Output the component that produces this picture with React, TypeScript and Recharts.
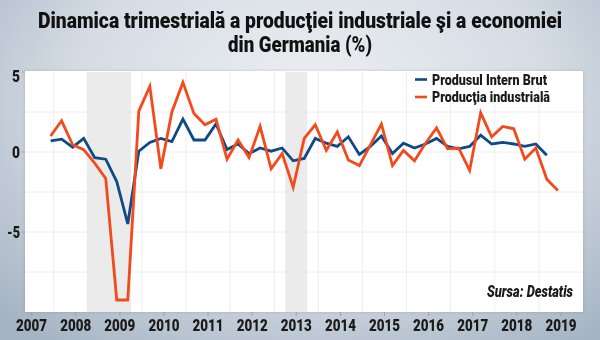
import { LineChart, Line, XAxis, YAxis, CartesianGrid, ReferenceArea } from 'recharts'

// trimestre (an, trimestru), variatie % fata de trimestrul anterior
const quarters: [number, number][] = [
  [2007, 2], [2007, 3], [2007, 4],
  [2008, 1], [2008, 2], [2008, 3], [2008, 4],
  [2009, 1], [2009, 2], [2009, 3], [2009, 4],
  [2010, 1], [2010, 2], [2010, 3], [2010, 4],
  [2011, 1], [2011, 2], [2011, 3], [2011, 4],
  [2012, 1], [2012, 2], [2012, 3], [2012, 4],
  [2013, 1], [2013, 2], [2013, 3], [2013, 4],
  [2014, 1], [2014, 2], [2014, 3], [2014, 4],
  [2015, 1], [2015, 2], [2015, 3], [2015, 4],
  [2016, 1], [2016, 2], [2016, 3], [2016, 4],
  [2017, 1], [2017, 2], [2017, 3], [2017, 4],
  [2018, 1], [2018, 2], [2018, 3], [2018, 4],
]

const pib = [
  0.7, 0.8, 0.3,
  0.85, -0.35, -0.45, -1.85,
  -4.5, 0.05, 0.6, 0.85,
  0.65, 2.05, 0.75, 0.75,
  1.75, 0.15, 0.5, -0.1,
  0.25, 0.05, 0.25, -0.55,
  -0.4, 0.85, 0.55, 0.35,
  0.95, -0.15, 0.35, 1.0,
  -0.1, 0.55, 0.25, 0.5,
  0.85, 0.35, 0.2, 0.35,
  1.05, 0.5, 0.6, 0.5,
  0.35, 0.5, -0.2,
]

const productie = [
  1.0, 1.95, 0.45,
  0.15, -0.7, -1.65, -9.25,
  -9.25, 2.55, 4.1, -1.05,
  2.5, 4.35, 2.4, 1.7,
  2.05, -0.45, 0.75, -0.35,
  1.6, -1.05, -0.1, -2.2,
  0.85, 1.7, 0.1, 1.25,
  -0.5, -0.85, 0.45, 1.75,
  -0.85, 0.1, -0.55, 0.55,
  1.5, 0.2, 0.25, -1.15,
  2.45, 0.95, 1.6, 1.45,
  -0.45, 0.25, -1.7, -2.4,
]

const yearTicks = [2007, 2008, 2009, 2010, 2011, 2012, 2013, 2014, 2015, 2016, 2017, 2018, 2019]
const valueTicks = [-5, 0, 5]
const gridValues = [-7.5, -5, -2.5, 0, 2.5]
const halfYears = [2007.5, 2008.5, 2009.5, 2010.5, 2011.5, 2012.5, 2013.5, 2014.5, 2015.5, 2016.5, 2017.5, 2018.5]
const recessions: [number, number][] = [[2008.25, 2009.25], [2012.75, 2013.25]]

const titleLines = ['Dinamica trimestrială a producţiei industriale şi a economiei', 'din Germania (%)']
const legendItems = ['Produsul Intern Brut', 'Producţia industrială']
const source = 'Sursa: Destatis'

const data = quarters.map(([an, tr], i) => ({
  t: an + (tr - 1) / 4 + 0.18,
  pib: pib[i],
  productie: productie[i],
}))

const FONT = 'Roboto, "Noto Sans", sans-serif'
const INK = '#1a1a1a'
const BLUE = '#0d4a87'
const ORANGE = '#f24a1d'
const SQUEEZE = 0.85

// condensed look: glyphs squeezed to the widths measured on the original
const XTick = ({ x, y, payload }: any) => (
  <text x={x} y={y} dy={13} textAnchor="middle" fontFamily={FONT} fontWeight={900} fontSize={16} fill={INK}
    textLength={31} lengthAdjust="spacingAndGlyphs">
    {payload.value}
  </text>
)

const YTick = ({ x, y, payload }: any) => {
  const label = String(payload.value)
  return (
    <text x={x} y={y} dy={payload.value === 5 ? 9.5 : 6} textAnchor="end" fontFamily={FONT} fontWeight={900} fontSize={16.5} fill={INK}
      textLength={label.length > 1 ? 13 : 8} lengthAdjust="spacingAndGlyphs">
      {label}
    </text>
  )
}

export default function App() {
  return (
    <div
      style={{
        position: 'fixed', left: 0, top: 0, width: 600, height: 340, overflow: 'hidden',
        background: 'radial-gradient(ellipse 72% 90% at 52% 30%, #edf0f4 0%, #d5dce4 55%, #a5b3c3 100%)',
      }}
    >
      <div style={{ position: 'absolute', left: 25, top: 71, width: 558, height: 241, background: '#fff', boxShadow: '0 0 3px rgba(0,0,0,0.15)' }} />
      <div style={{ position: 'absolute', top: 0, left: 0 }}>
        <LineChart width={600} height={340} data={data} margin={{ top: 72, right: 17, bottom: 6, left: 0 }}>
          {recessions.map(([a, b]) => (
            <ReferenceArea key={a} x1={a} x2={b} y1={-10} y2={5} fill="#ebebeb" fillOpacity={1} stroke="none" ifOverflow="hidden" />
          ))}
          <CartesianGrid stroke="#eeeeee" strokeWidth={1} horizontalValues={gridValues} verticalValues={halfYears} />
          <XAxis
            dataKey="t" type="number" domain={[2006.85, 2019.5]} ticks={yearTicks} allowDataOverflow
            axisLine={false} tickLine={{ stroke: '#9aa3ad' }} tickSize={4} interval={0} height={22}
            tick={<XTick />}
          />
          <YAxis
            type="number" domain={[-10, 5]} ticks={valueTicks} width={25} axisLine={false}
            tickLine={{ stroke: '#9aa3ad' }} tickSize={3} tick={<YTick />}
          />
          <Line dataKey="pib" name={legendItems[0]} stroke={BLUE} strokeWidth={2.8} dot={false} isAnimationActive={false} strokeLinejoin="miter" />
          <Line dataKey="productie" name={legendItems[1]} stroke={ORANGE} strokeWidth={2.8} dot={false} isAnimationActive={false} strokeLinejoin="miter" />
        </LineChart>
      </div>
      <svg width={600} height={340} style={{ position: 'absolute', left: 0, top: 0, pointerEvents: 'none' }}>
        <g fontFamily={FONT} fontWeight={900} fill="#111" fontSize={22} textAnchor="middle">
          <g transform={`translate(300,28) scale(${SQUEEZE},1)`}>
            <text x={0} y={0} textLength={524 / SQUEEZE} lengthAdjust="spacingAndGlyphs">{titleLines[0]}</text>
          </g>
          <g transform={`translate(300,52) scale(${SQUEEZE},1)`}>
            <text x={0} y={0} textLength={144 / SQUEEZE} lengthAdjust="spacingAndGlyphs">{titleLines[1]}</text>
          </g>
        </g>
        <g fontFamily={FONT} fontWeight={900} fontSize={14} fill={INK}>
          <line x1={415} x2={427} y1={79.5} y2={79.5} stroke={BLUE} strokeWidth={2.6} />
          <text x={432} y={84.5} textLength={115} lengthAdjust="spacingAndGlyphs">{legendItems[0]}</text>
          <line x1={415} x2={427} y1={97} y2={97} stroke={ORANGE} strokeWidth={2.6} />
          <text x={432} y={102} textLength={118} lengthAdjust="spacingAndGlyphs">{legendItems[1]}</text>
        </g>
        <text x={487} y={297} fontFamily={FONT} fontWeight={900} fontStyle="italic" fontSize={17} fill={INK}
          textLength={86} lengthAdjust="spacingAndGlyphs">
          {source}
        </text>
      </svg>
    </div>
  )
}
